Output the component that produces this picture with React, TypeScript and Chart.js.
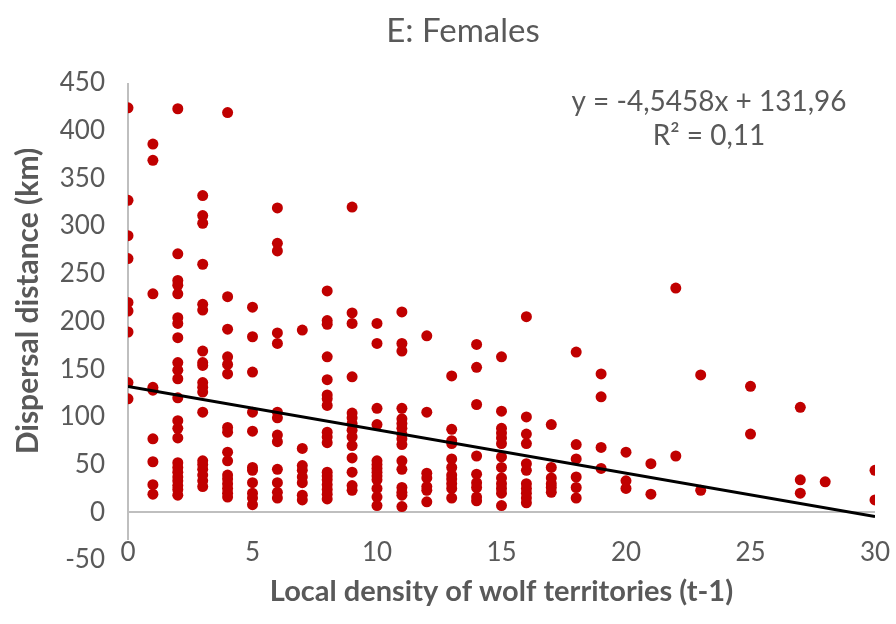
import { useEffect, useRef } from "react";
import { Chart, registerables } from "chart.js";

Chart.register(...registerables);

// Local density of wolf territories (t-1) for each column of records
const densityLevels = [0, 1, 2, 3, 4, 5, 6, 7, 8, 9, 10, 11, 12, 13, 14, 15, 16, 17, 18, 19, 20, 21, 22, 23, 25, 27, 28, 30];

// Female dispersal distances (km) recorded at each density level above
const distancesKm = [
  [424, 327, 290, 266, 220, 211, 189, 136, 119],
  [386, 369, 229, 131, 128, 77, 53, 29, 19],
  [423, 271, 243, 238, 229, 204, 198, 183, 157, 149, 140, 120, 96, 88, 78, 52, 47, 42, 37, 33, 28, 24, 18],
  [332, 311, 303, 260, 218, 212, 169, 157, 154, 136, 131, 126, 105, 54, 50, 45, 39, 33, 27],
  [419, 226, 192, 163, 155, 145, 89, 84, 63, 54, 39, 35, 30, 25, 20, 16],
  [215, 184, 147, 105, 85, 47, 44, 31, 20, 15, 8],
  [319, 282, 274, 188, 177, 105, 99, 81, 74, 45, 31, 21, 15],
  [191, 67, 49, 44, 37, 31, 18, 13],
  [232, 201, 197, 163, 139, 123, 119, 112, 84, 79, 73, 42, 38, 34, 29, 24, 19, 14],
  [320, 209, 198, 142, 104, 99, 93, 86, 79, 70, 57, 42, 28, 23],
  [198, 177, 109, 92, 54, 50, 46, 42, 38, 34, 25, 16, 7],
  [210, 177, 169, 109, 98, 93, 88, 82, 77, 71, 54, 45, 26, 21, 18, 6],
  [185, 105, 41, 36, 27, 23, 11],
  [143, 87, 75, 72, 56, 47, 39, 35, 30, 25, 15],
  [176, 152, 113, 59, 40, 31, 26, 16, 12],
  [163, 106, 88, 83, 78, 72, 58, 47, 36, 30, 25, 20, 7],
  [205, 100, 82, 72, 51, 44, 30, 25, 20, 15, 10],
  [92, 47, 36, 30, 26, 21],
  [168, 71, 56, 37, 26, 15],
  [145, 121, 68, 46],
  [63, 33, 25],
  [51, 19],
  [235, 59],
  [144, 23],
  [132, 82],
  [110, 34, 20],
  [32],
  [44, 13],
];

// Linear trend fitted to the records
const trendSlope = -4.5458;
const trendIntercept = 131.96;
const trendLabel = "y = -4,5458x + 131,96";
const fitLabel = "R² = 0,11";

const chartTitle = "E: Females";
const xAxisTitle = "Local density of wolf territories (t-1)";
const yAxisTitle = "Dispersal distance (km)";

const xTicks = { min: 0, max: 30, step: 5 };
const yTicks = { min: -50, max: 450, step: 50 };

const FONT = "Lato, 'Open Sans', sans-serif";
const TEXT = "#595959";
const AXIS = "#BFBFBF";
const MARK = "#C00000";
const TICK_SIZE = 26;

// Vertical axis line, drawn down to where the horizontal axis labels begin
const axisLinePlugin = {
  id: "axisLine",
  beforeDatasetsDraw(chart: any) {
    const { ctx, chartArea } = chart;
    const labelTop = chartArea.bottom - 7 - TICK_SIZE / 2;
    ctx.save();
    ctx.strokeStyle = AXIS;
    ctx.lineWidth = 2;
    ctx.beginPath();
    ctx.moveTo(chartArea.left, chartArea.top);
    ctx.lineTo(chartArea.left, labelTop);
    ctx.stroke();
    ctx.restore();
  },
};

// Titles, regression text and the horizontal axis labels (placed at the foot of the plot)
const textPlugin = {
  id: "chartText",
  afterDraw(chart: any) {
    const { ctx, chartArea } = chart;
    const xScale = chart.scales.x;
    ctx.save();
    ctx.fillStyle = TEXT;
    ctx.textAlign = "center";
    ctx.textBaseline = "middle";

    ctx.font = `33px ${FONT}`;
    ctx.fillText(chartTitle, 463, 31);

    ctx.font = `28px ${FONT}`;
    ctx.fillText(trendLabel, 709, 102);
    ctx.fillText(fitLabel, 709, 136);

    ctx.font = `${TICK_SIZE}px ${FONT}`;
    xScale.ticks.forEach((t: any) => {
      ctx.fillText(String(t.value), xScale.getPixelForValue(t.value), chartArea.bottom - 7);
    });

    ctx.font = `bold 29px ${FONT}`;
    ctx.fillText(xAxisTitle, (chartArea.left + chartArea.right) / 2, 592);

    ctx.font = `bold 30px ${FONT}`;
    ctx.translate(28, 301);
    ctx.rotate(-Math.PI / 2);
    ctx.fillText(yAxisTitle, 0, 0);
    ctx.restore();
  },
};

export default function App() {
  const canvasRef = useRef<HTMLCanvasElement | null>(null);

  useEffect(() => {
    document.body.style.margin = "0";
    const canvas = canvasRef.current;
    if (!canvas) return;

    const points: { x: number; y: number }[] = [];
    densityLevels.forEach((d, i) => {
      distancesKm[i].forEach((v) => points.push({ x: d, y: v }));
    });

    const trend = [xTicks.min, xTicks.max].map((x) => ({ x, y: trendSlope * x + trendIntercept }));

    const chart = new Chart(canvas, {
      type: "scatter",
      data: {
        datasets: [
          {
            label: "Females",
            data: points,
            backgroundColor: MARK,
            borderWidth: 0,
            pointRadius: 5.5,
            order: 1,
          },
          {
            type: "line",
            label: "Linear trend",
            data: trend,
            borderColor: "#000000",
            borderWidth: 3,
            pointRadius: 0,
            fill: false,
            order: 0,
          } as any,
        ],
      },
      options: {
        responsive: false,
        animation: false,
        layout: { padding: { left: 0, top: 83, right: 21, bottom: 0 } },
        plugins: {
          legend: { display: false },
          title: { display: false },
          tooltip: { enabled: false },
        },
        scales: {
          x: {
            type: "linear",
            min: xTicks.min,
            max: xTicks.max,
            grid: { display: false, drawTicks: false },
            border: { display: false },
            ticks: { stepSize: xTicks.step, autoSkip: false, display: false },
            afterFit(scale: any) {
              scale.height = 64;
            },
          },
          y: {
            type: "linear",
            min: yTicks.min,
            max: yTicks.max,
            grid: {
              drawTicks: false,
              lineWidth: 2,
              color: (c: any) => (c.tick && c.tick.value === 0 ? AXIS : "rgba(0,0,0,0)"),
            },
            border: { display: false },
            ticks: {
              stepSize: yTicks.step,
              autoSkip: false,
              padding: 23,
              color: TEXT,
              font: { family: FONT, size: TICK_SIZE },
            },
            afterFit(scale: any) {
              scale.width = 128;
            },
          },
        },
      },
      plugins: [axisLinePlugin, textPlugin],
    });

    return () => chart.destroy();
  }, []);

  return <canvas ref={canvasRef} width={896} height={624} style={{ display: "block" }} />;
}
